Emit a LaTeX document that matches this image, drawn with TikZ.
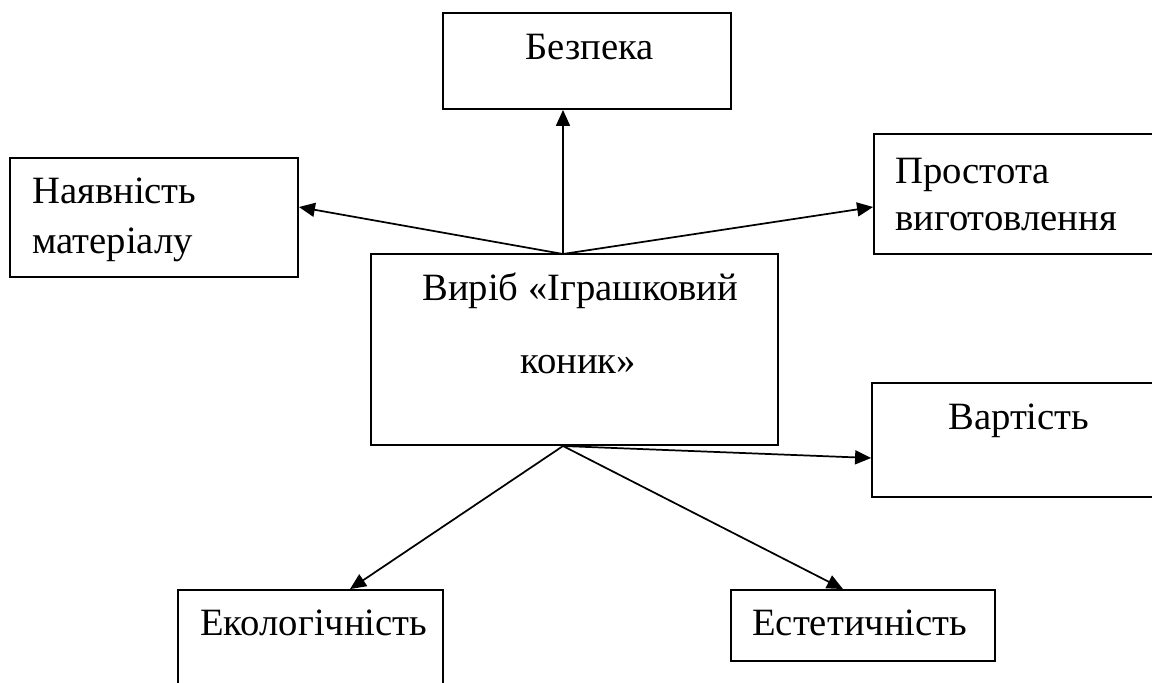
\documentclass[tikz,border=0pt]{standalone}
\usepackage{fontspec}
\setmainfont{Liberation Serif}
\usetikzlibrary{fit,arrows.meta}
\begin{document}
\begin{tikzpicture}[x=0.75pt,y=-0.75pt,
  box/.style={draw,line width=1.4pt,inner sep=0pt,rectangle},
  txt/.style={inner sep=0pt,anchor=base west,font=\fontsize{29}{34}\selectfont},
  arr/.style={line width=1.3pt,-{Triangle[length=12pt,width=10.5pt]}}]
\useasboundingbox (0,0) rectangle (1152,682);
\clip (0,0) rectangle (1152,682);
% boxes
\node[box,fit={(443,13) (731,109)}] (bez) {};
\node[box,fit={(10,158) (298,277)}] (nal) {};
\node[box,fit={(874,134) (1170,254)}] (pro) {};
\node[box,fit={(371,254) (778,445)}] (cen) {};
\node[box,fit={(872,383) (1170,497)}] (var) {};
\node[box,fit={(178,590) (443,710)}] (eko) {};
\node[box,fit={(731,590) (995,661)}] (est) {};
% texts
\node[txt] (tbez) at (525,59) {Безпека};
\node[txt] (tnal1) at (32,203) {Наявність};
\node[txt] (tnal2) at (32,253) {матеріалу};
\node[txt] (tpro1) at (895,183) {Простота};
\node[txt] (tpro2) at (895,230) {виготовлення};
\node[txt] (tcen1) at (422,300) {Виріб «Іграшковий};
\node[txt] (tcen2) at (520,373) {коник»};
\node[txt] (tvar) at (948,429) {Вартість};
\node[txt] (teko) at (200,635) {Екологічність};
\node[txt] (test) at (752,635) {Естетичність};
% connectors
\coordinate (top) at (563,254);
\coordinate (bot) at (563,446);
\draw[arr] (top) -- (top |- bez.south);
\draw[arr] (top) -- (nal.east |- 0,207);
\draw[arr] (top) -- (pro.west |- 0,207);
\draw[arr] (bot) -- (var.west |- 0,458);
\draw[arr] (bot) -- (eko.north -| 350,0);
\draw[arr] (bot) -- (est.north -| 843,0);
\end{tikzpicture}
\end{document}
